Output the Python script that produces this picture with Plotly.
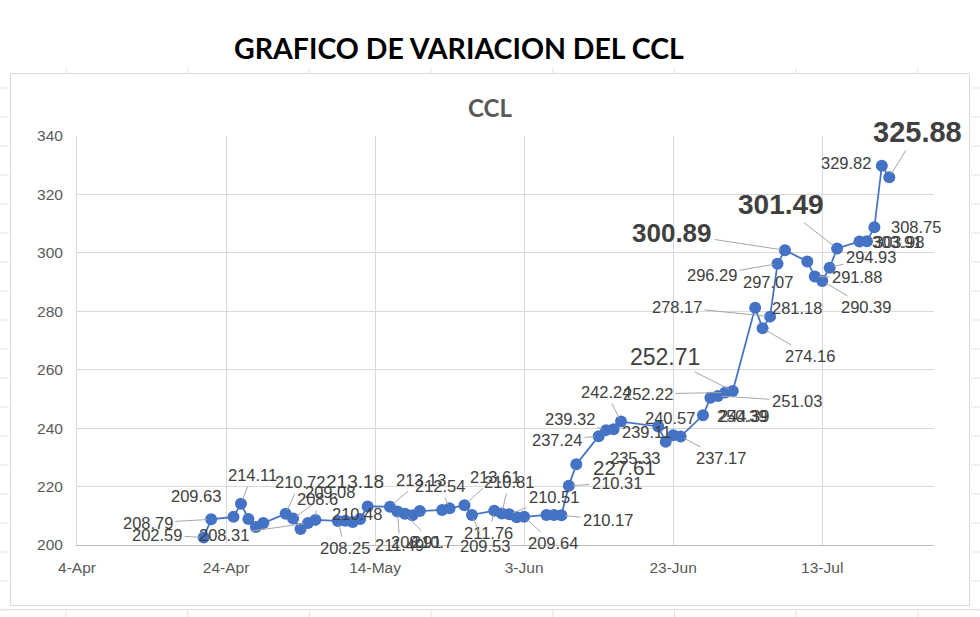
import plotly.graph_objects as go
import pandas as pd

# ---------------- data ----------------
dates = [
    "2022-04-21", "2022-04-22", "2022-04-25", "2022-04-26", "2022-04-27", "2022-04-28", "2022-04-29",
    "2022-05-02", "2022-05-03", "2022-05-04", "2022-05-05", "2022-05-06", "2022-05-09", "2022-05-10",
    "2022-05-11", "2022-05-12", "2022-05-13", "2022-05-16", "2022-05-17", "2022-05-18", "2022-05-19",
    "2022-05-20", "2022-05-23", "2022-05-24", "2022-05-26", "2022-05-27", "2022-05-30", "2022-05-31",
    "2022-06-01", "2022-06-02", "2022-06-03", "2022-06-06", "2022-06-07", "2022-06-08", "2022-06-09",
    "2022-06-10", "2022-06-13", "2022-06-14", "2022-06-15", "2022-06-16", "2022-06-21", "2022-06-22",
    "2022-06-23", "2022-06-24", "2022-06-27", "2022-06-28", "2022-06-29", "2022-06-30",
    "2022-07-01", "2022-07-04", "2022-07-05", "2022-07-06", "2022-07-07", "2022-07-08", "2022-07-11",
    "2022-07-12", "2022-07-13", "2022-07-14", "2022-07-15", "2022-07-18", "2022-07-19", "2022-07-20",
    "2022-07-21", "2022-07-22",
]
values = [
    202.59, 208.79, 209.63, 214.11, 208.9, 206.2, 207.5,
    210.72, 209.08, 205.5, 207.5, 208.6, 208.25, 208.31,
    207.9, 208.9, 213.18, 213.13, 211.49, 210.7, 210.2,
    211.6, 212.0, 212.54, 213.61, 210.3, 211.76, 210.81,
    210.51, 209.53, 209.64, 210.3, 210.3, 210.17, 220.31,
    227.61, 237.24, 239.32, 239.6, 242.24, 240.57, 235.33,
    237.6, 237.17, 244.39, 250.39, 251.03, 252.22,
    252.71, 281.18, 274.16, 278.17, 296.29, 300.89, 297.07,
    291.88, 290.39, 294.93, 301.49, 303.91, 303.98, 308.75,
    329.82, 325.88,
]

# data labels as they appear: (anchor date, text)
label_dates = [
    "2022-04-21", "2022-04-22", "2022-04-25", "2022-04-26", "2022-05-05", "2022-05-02", "2022-05-03",
    "2022-05-06", "2022-05-13", "2022-05-12", "2022-05-09", "2022-05-17", "2022-05-19", "2022-05-18",
    "2022-05-16", "2022-05-24", "2022-05-26", "2022-05-31", "2022-06-01", "2022-05-30", "2022-05-27",
    "2022-06-03", "2022-06-08", "2022-06-09", "2022-06-10", "2022-06-22", "2022-06-13", "2022-06-14",
    "2022-06-16", "2022-06-30", "2022-06-21", "2022-06-23", "2022-06-24", "2022-07-01", "2022-06-28",
    "2022-06-27", "2022-06-29", "2022-07-06", "2022-07-04", "2022-07-05", "2022-07-07", "2022-07-11",
    "2022-07-08", "2022-07-15", "2022-07-14", "2022-07-12", "2022-07-13", "2022-07-20", "2022-07-18",
    "2022-07-19", "2022-07-21", "2022-07-22",
]
label_texts = [
    "202.59", "208.79", "209.63", "214.11", "208.31", "210.72", "209.08",
    "208.6", "213.18", "210.48", "208.25", "211.49", "208.91", "210.7",
    "213.13", "212.54", "213.61", "210.81", "210.51", "211.76", "209.53",
    "209.64", "210.17", "210.31", "227.61", "235.33", "237.24", "239.32",
    "242.24", "252.22", "240.57", "239.11", "237.17", "252.71", "250.39",
    "244.39", "251.03", "278.17", "281.18", "274.16", "296.29", "297.07",
    "300.89", "301.49", "294.93", "291.88", "290.39", "308.75", "303.91",
    "303.98", "329.82", "325.88",
]

# ---------------- layout / styles ----------------
W, H = 980, 617
L, R, T, B = 77, 46, 136, 72
PW, PH = W - L - R, H - T - B
X0, X1 = pd.Timestamp("2022-04-04"), pd.Timestamp("2022-07-28")
Y0, Y1 = 200, 340

S = 16.5
# label placement (pixel centre), leader flag, font size, bold
label_style = [
    (157, 535, 1, S, 0), (148, 523, 1, S, 0), (196, 496, 0, S, 0), (252, 475, 1, S, 0),
    (224, 535, 1, S, 0), (300, 482, 1, S, 0), (330, 492, 1, S, 0),
    (317, 499, 1, S, 0), (355, 481, 0, 19, 0), (357, 514, 0, S, 0), (345, 548, 1, S, 0),
    (400, 545, 1, S, 0), (416, 542, 0, S, 0), (432, 542, 1, S, 0),
    (421, 480, 1, S, 0), (440, 486, 1, S, 0), (495, 477, 1, S, 0), (509, 482, 1, S, 0),
    (554, 497, 1, S, 0), (489, 533, 1, S, 0), (485, 546, 1, S, 0),
    (553, 543, 1, S, 0), (608, 520, 1, S, 0), (617, 483, 1, S, 0), (624, 467, 0, 20.5, 0),
    (635, 458, 0, S, 0), (557, 440, 1, S, 0), (570, 419, 1, S, 0),
    (606, 392, 1, S, 0), (648, 394, 1, S, 0), (670, 418, 0, S, 0), (647, 432, 0, S, 0),
    (721, 458, 1, S, 0), (665, 357, 1, 23, 0), (742, 416, 0, S, 0),
    (744, 416, 0, S, 0), (797, 401, 1, S, 0), (677, 307, 1, S, 0), (797, 308, 0, S, 0),
    (810, 356, 1, S, 0), (712, 275, 1, S, 0), (768, 282, 0, S, 0),
    (672, 233, 1, 26, 1), (781, 205, 1, 28, 1), (871, 257, 1, S, 0), (857, 277, 1, S, 0),
    (866, 307, 1, S, 0), (916, 227, 0, S, 0), (897, 242, 0, S, 0),
    (899, 242, 0, S, 0), (846, 163, 0, S, 0), (917, 132, 1, 29, 1),
]

LINE_COLOR = "#4472C4"
GRID = "#D9D9D9"
TXT = "#595959"
LBL = "#404040"
FONT = "Liberation Sans"


def px_x(d):
    return L + (pd.Timestamp(d) - X0) / (X1 - X0) * PW


def px_y(v):
    return T + (Y1 - v) / (Y1 - Y0) * PH


def paper(px, py):
    return (px - L) / PW, 1 - (py - T) / PH


val_of = dict(zip(dates, values))

fig = go.Figure()
fig.add_trace(go.Scatter(
    x=dates, y=values, mode="lines+markers",
    line=dict(color=LINE_COLOR, width=1.75),
    marker=dict(color=LINE_COLOR, size=12),
    showlegend=False, hoverinfo="x+y",
))

annotations = []
for d, txt, (lx, ly, lead, size, bold) in zip(label_dates, label_texts, label_style):
    v = val_of[d]
    ax = lx - px_x(d)
    ay = ly - px_y(v)
    t = f"<b>{txt}</b>" if bold else txt
    f = dict(family=FONT, size=size, color=LBL)
    if lead:
        annotations.append(dict(
            x=d, y=v, xref="x", yref="y", text=t, font=f, showarrow=True,
            ax=ax, ay=ay, axref="pixel", ayref="pixel", arrowhead=0, arrowwidth=1,
            arrowcolor="#A6A6A6", standoff=4, startstandoff=1,
        ))
    else:
        annotations.append(dict(
            x=d, y=v, xref="x", yref="y", text=t, font=f, showarrow=False,
            xshift=ax, yshift=-ay, xanchor="center", yanchor="middle",
        ))

# titles
tx, ty = paper(459, 48)
annotations.append(dict(x=tx, y=ty, xref="paper", yref="paper", showarrow=False,
                        xanchor="center", yanchor="middle",
                        text="<b>GRAFICO DE VARIACION DEL CCL</b>",
                        font=dict(family="Lato", size=28.5, color="#000000")))
cx, cy = paper(490, 108)
annotations.append(dict(x=cx, y=cy, xref="paper", yref="paper", showarrow=False,
                        xanchor="center", yanchor="middle",
                        text="<b>CCL</b>", font=dict(family="Lato", size=24, color=TXT)))

shapes = []
# chart area border
x0p, y0p = paper(10.5, 73.5)
x1p, y1p = paper(969.5, 605.5)
shapes.append(dict(type="rect", xref="paper", yref="paper", x0=x0p, y0=y1p, x1=x1p, y1=y0p,
                   line=dict(color="#D9D9D9", width=1), fillcolor="rgba(0,0,0,0)", layer="below"))
# spreadsheet cell lines peeking around the chart
for k in range(19):
    yy = 88 + 29 * k
    if yy > 612:
        break
    a, b_ = paper(0, yy)
    c, _ = paper(9, yy)
    shapes.append(dict(type="line", xref="paper", yref="paper", x0=a, x1=c, y0=b_, y1=b_,
                       line=dict(color="#E3E3E3", width=1)))
    a, _ = paper(971, yy)
    c, _ = paper(980, yy)
    shapes.append(dict(type="line", xref="paper", yref="paper", x0=a, x1=c, y0=b_, y1=b_,
                       line=dict(color="#E3E3E3", width=1)))
for k in range(8):
    xx = 66 + 121.7 * k
    a, t0 = paper(xx, 68)
    _, t1 = paper(xx, 73)
    shapes.append(dict(type="line", xref="paper", yref="paper", x0=a, x1=a, y0=t0, y1=t1,
                       line=dict(color="#E3E3E3", width=1)))
    _, b0 = paper(xx, 609)
    _, b1 = paper(xx, 617)
    shapes.append(dict(type="line", xref="paper", yref="paper", x0=a, x1=a, y0=b0, y1=b1,
                       line=dict(color="#E3E3E3", width=1)))
a, yb = paper(0, 609.5)
c, _ = paper(980, 609.5)
shapes.append(dict(type="line", xref="paper", yref="paper", x0=a, x1=c, y0=yb, y1=yb,
                   line=dict(color="#E3E3E3", width=1)))

fig.update_layout(
    width=W, height=H,
    margin=dict(l=L, r=R, t=T, b=B, pad=0),
    paper_bgcolor="white", plot_bgcolor="white",
    font=dict(family=FONT, color=TXT),
    annotations=annotations, shapes=shapes,
    xaxis=dict(
        type="date", range=[X0, X1], tick0="2022-04-04", dtick=20 * 86400000,
        tickformat="%-d-%b", showgrid=True, gridcolor=GRID, gridwidth=1,
        showline=True, linecolor="#BFBFBF", linewidth=1, ticks="",
        tickfont=dict(family=FONT, size=15.5, color=TXT), ticklabelstandoff=8,
        zeroline=False,
    ),
    yaxis=dict(
        range=[Y0, Y1], dtick=20, tick0=200, showgrid=True, gridcolor=GRID, gridwidth=1,
        showline=True, linecolor=GRID, linewidth=1, ticks="", zeroline=False,
        tickfont=dict(family=FONT, size=15.5, color=TXT), ticklabelstandoff=10,
    ),
)

fig.write_html("out.html")
